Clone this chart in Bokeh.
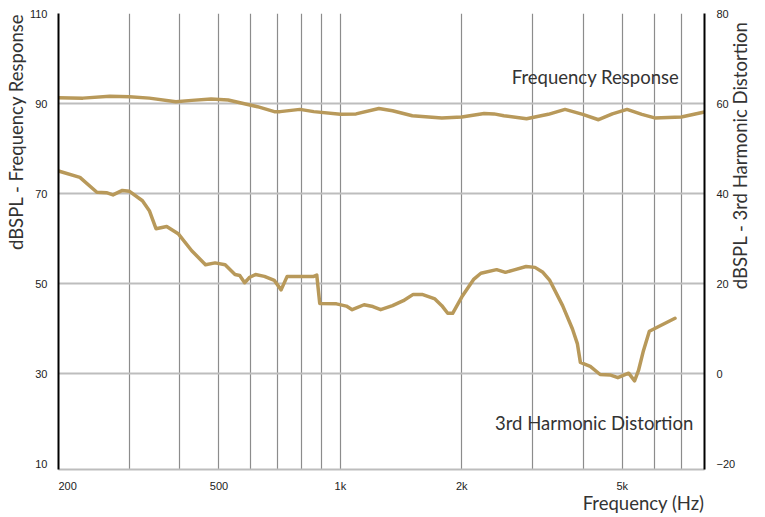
from math import pi
from bokeh.plotting import figure
from bokeh.models import Range1d, LinearAxis, FixedTicker, Label, Title
from bokeh.embed import file_html
from bokeh.resources import INLINE

# ---- data ----
fr_freq = [200, 230, 268, 300, 336, 391, 428, 478, 527, 589, 623, 686, 709, 794, 859,
           1000, 1094, 1246, 1347, 1508, 1785, 2000, 2273, 2405, 2544, 2896, 3278, 3608,
           3991, 4368, 4726, 5141, 5594, 6019, 7008, 8000]
fr_db = [91.3, 91.2, 91.6, 91.5, 91.2, 90.4, 90.7, 91.0, 90.8, 89.8, 89.3, 88.2, 88.2, 88.7, 88.2,
         87.6, 87.7, 88.9, 88.4, 87.3, 86.8, 87.0, 87.8, 87.7, 87.3, 86.6, 87.6, 88.7,
         87.6, 86.4, 87.7, 88.7, 87.6, 86.8, 87.0, 88.1]

thd_freq = [200, 226, 249, 263, 273, 288, 300, 323, 336, 349, 371, 397, 428, 463, 489, 518,
            548, 563, 579, 596, 616, 648, 686, 713, 738, 859, 874, 889, 978, 1035, 1070,
            1145, 1204, 1259, 1347, 1433, 1516, 1595, 1716, 1785, 1846, 1899, 2000, 2144,
            2231, 2441, 2567, 2686, 2889, 3039, 3179, 3307, 3558, 3764, 3872, 3938, 4167,
            4408, 4663, 4877, 5188, 5366, 5488, 5645, 5839, 6142, 6761]
thd_db = [45.0, 43.6, 40.3, 40.2, 39.7, 40.7, 40.5, 38.4, 36.2, 32.2, 32.7, 31.0, 27.3, 24.2,
          24.6, 24.2, 22.0, 21.8, 20.2, 21.4, 22.0, 21.6, 20.7, 18.6, 21.6, 21.6, 21.9, 15.6,
          15.5, 15.0, 14.2, 15.3, 14.9, 14.2, 15.1, 16.2, 17.6, 17.6, 16.6, 15.1, 13.4, 13.4,
          17.0, 21.0, 22.3, 23.1, 22.5, 23.0, 23.8, 23.6, 22.5, 20.7, 15.1, 9.9, 6.6, 2.5,
          1.6, -0.2, -0.3, -0.9, 0.1, -1.6, 0.7, 5.1, 9.4, 10.4, 12.3]

x_tick_values = [200, 500, 1000, 2000, 5000]
x_tick_labels = ["\u00a0" * 6 + "200", "500", "1k", "2k", "5k"]
x_grid_values = [300, 400, 500, 600, 700, 800, 900, 1000, 2000, 3000, 4000, 5000, 6000, 7000]
left_ticks = [10, 30, 50, 70, 90, 110]
right_ticks = [-20, 0, 20, 40, 60, 80]
y_grid_values = [30, 50, 70, 90, 110]

left_title = "dBSPL - Frequency Response"
right_title = "dBSPL - 3rd Harmonic Distortion"
x_title = "Frequency (Hz)"
fr_name = "Frequency Response"
thd_name = "3rd Harmonic Distortion"

CURVE = "#b8995a"
TEXT = "#333333"
FONT = "Lato"
TICKFONT = "Liberation Sans"
TITLE_SIZE = "18.5px"

p = figure(width=765, height=517, x_axis_type="log",
           x_range=Range1d(200, 8000), y_range=Range1d(8.7, 110),
           output_backend="svg", toolbar_location=None,
           min_border_left=58, min_border_right=52, min_border_top=13, min_border_bottom=48)
p.extra_y_ranges = {"thd": Range1d(-21.3, 80)}
p.outline_line_color = None
p.background_fill_color = "white"
p.border_fill_color = "white"

# grids
p.xgrid.ticker = FixedTicker(ticks=x_grid_values)
p.xgrid.grid_line_color = "#8c8c8c"
p.xgrid.grid_line_width = 1.2
p.ygrid.ticker = FixedTicker(ticks=y_grid_values)
p.ygrid.grid_line_color = "#bdbdbd"
p.ygrid.grid_line_width = 2


def style_ticks(ax, standoff):
    ax.major_tick_line_color = None
    ax.minor_tick_line_color = None
    ax.major_label_text_font = TICKFONT
    ax.major_label_text_font_size = "11px"
    ax.major_label_text_color = "#222222"
    ax.major_label_standoff = standoff


# x axis
xa = p.xaxis[0]
xa.ticker = FixedTicker(ticks=x_tick_values)
xa.major_label_overrides = {v: t for v, t in zip(x_tick_values, x_tick_labels)}
xa.axis_line_color = "#bdbdbd"
xa.axis_line_width = 2
style_ticks(xa, 4)

# left axis
ya = p.yaxis[0]
ya.ticker = FixedTicker(ticks=left_ticks)
ya.axis_line_color = "black"
ya.axis_line_width = 2
style_ticks(ya, 5)

# right axis (title reads bottom-to-top; em-space lead-in lifts it toward the top)
ra = LinearAxis(y_range_name="thd", ticker=FixedTicker(ticks=right_ticks))
ra.axis_line_color = "black"
ra.axis_line_width = 2
style_ticks(ra, 6)
ra.axis_label = "\u2003" * 13 + right_title
ra.axis_label_text_font = FONT
ra.axis_label_text_font_size = TITLE_SIZE
ra.axis_label_text_font_style = "normal"
ra.axis_label_text_color = TEXT
ra.axis_label_text_line_height = 0.8
ra.axis_label_standoff = 2
ra.axis_label_orientation = pi / 2
ra.axis_label_align = "start"
p.add_layout(ra, "right")

# left and bottom titles
p.add_layout(Title(text=left_title, align="right", standoff=0, text_font=FONT,
                   text_font_size=TITLE_SIZE, text_font_style="normal",
                   text_color=TEXT), "left")
p.add_layout(Title(text=x_title, align="right", standoff=-10, text_font=FONT,
                   text_font_size=TITLE_SIZE, text_font_style="normal",
                   text_color=TEXT), "below")

# curves
p.line(fr_freq, fr_db, line_color=CURVE, line_width=3.5, line_join="round", line_cap="round")
p.line(thd_freq, thd_db, y_range_name="thd", line_color=CURVE, line_width=3.5,
       line_join="round", line_cap="round")

# series annotations
p.add_layout(Label(x=2662, y=95.8, text=fr_name, text_align="left", text_baseline="alphabetic",
                   text_font=FONT, text_font_size=TITLE_SIZE, text_color=TEXT))
p.add_layout(Label(x=2418, y=19.1, text=thd_name, text_align="left", text_baseline="alphabetic",
                   text_font=FONT, text_font_size=TITLE_SIZE, text_color=TEXT))

open("out.html", "w").write(file_html(p, INLINE))
